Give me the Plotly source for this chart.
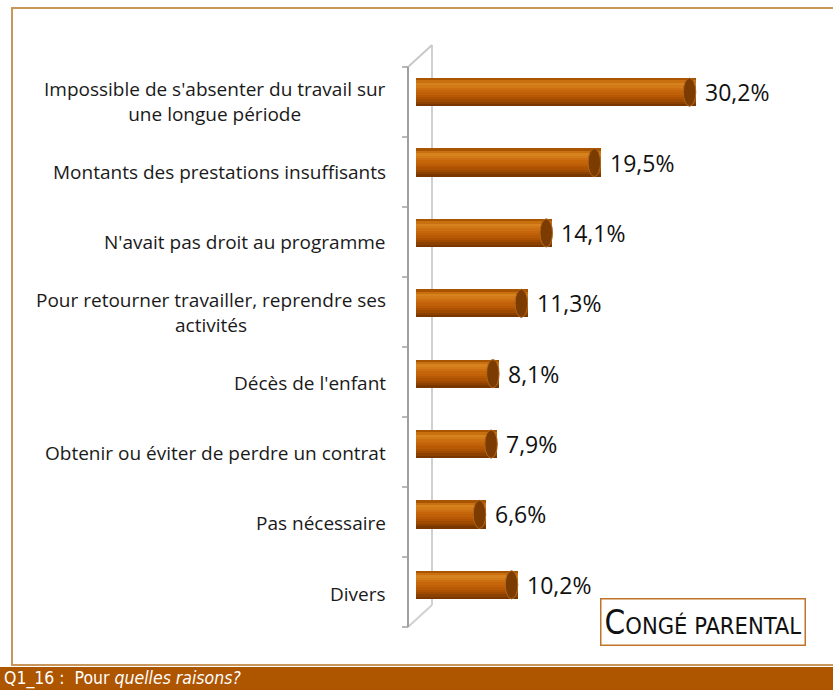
import plotly.graph_objects as go

categories = [
    "Impossible de s'absenter du travail sur<br>une longue période",
    "Montants des prestations insuffisants",
    "N'avait pas droit au programme",
    "Pour retourner travailler, reprendre ses<br>activités",
    "Décès de l'enfant",
    "Obtenir ou éviter de perdre un contrat",
    "Pas nécessaire",
    "Divers",
]
values = [30.2, 19.5, 14.1, 11.3, 8.1, 7.9, 6.6, 10.2]
value_labels = ["30,2%", "19,5%", "14,1%", "11,3%", "8,1%", "7,9%", "6,6%", "10,2%"]

W, H = 833, 690
L, R, T, B = 416, 47, 57, 70
pw, ph = W - L - R, H - T - B
PX_PER_UNIT = 8.9          # horizontal scale
X0 = -11 / PX_PER_UNIT     # 3D depth offset: bars start slightly left of zero
X1 = X0 + pw / PX_PER_UNIT

def px(x):  # pixel -> paper x
    return (x - L) / pw

def py(y):  # pixel -> paper y
    return (H - B - y) / ph

ypos = list(range(len(categories)))
bar_w = 0.40
# bands from top to bottom to simulate a cylinder
band_cols = ["#a85400", "#c8700f", "#d6821f", "#d27a18", "#cc6e12", "#c6660b",
             "#c06008", "#b85a05", "#ad5203", "#9e4a01", "#8c4100", "#783600"]
nb = len(band_cols)

fig = go.Figure()
for i, col in enumerate(band_cols):
    fig.add_trace(go.Bar(
        x=[v - X0 for v in values], base=X0, y=ypos, orientation="h",
        offset=-bar_w / 2 + i * bar_w / nb, width=bar_w / nb * 1.02,
        marker=dict(color=col, line=dict(width=0)),
        hoverinfo="skip", showlegend=False,
    ))

shapes = []
cap_w = 1.4
for v, yy in zip(values, ypos):
    shapes.append(dict(type="circle", xref="x", yref="y",
                       x0=v - cap_w, x1=v, y0=yy - bar_w / 2, y1=yy + bar_w / 2,
                       fillcolor="#7c3b00", line=dict(color="#b0681c", width=1), layer="above"))

# 3D axis walls (decoration)
gray = "#a0a0a0"
front_x, back_x = 408, 432
top_front, bot_front = 67, 627
top_back, bot_back = 45, 605
shapes += [
    dict(type="line", xref="paper", yref="paper", x0=px(front_x), x1=px(front_x),
         y0=py(top_front), y1=py(bot_front), line=dict(color=gray, width=2)),
    dict(type="line", xref="paper", yref="paper", x0=px(back_x), x1=px(back_x),
         y0=py(top_back), y1=py(bot_back), line=dict(color="#d0d0d0", width=2), layer="below"),
    dict(type="line", xref="paper", yref="paper", x0=px(front_x), x1=px(back_x),
         y0=py(top_front), y1=py(top_back), line=dict(color="#c8c8c8", width=2), layer="below"),
    dict(type="line", xref="paper", yref="paper", x0=px(front_x), x1=px(back_x),
         y0=py(bot_front), y1=py(bot_back), line=dict(color="#d0d0d0", width=2), layer="below"),
]
n = len(categories)
for k in range(n + 1):
    yk = top_front + k * (bot_front - top_front) / n
    shapes.append(dict(type="line", xref="paper", yref="paper",
                       x0=px(front_x - 6), x1=px(front_x), y0=py(yk), y1=py(yk),
                       line=dict(color=gray, width=1.5)))

# outer frame
shapes.append(dict(type="rect", xref="paper", yref="paper",
                   x0=px(12), x1=px(840), y0=py(8), y1=py(665),
                   line=dict(color="#c8955a", width=2), layer="below"))
# bottom band
shapes.append(dict(type="rect", xref="paper", yref="paper",
                   x0=px(0), x1=px(W), y0=py(667), y1=py(H + 5),
                   fillcolor="#ae5500", line=dict(width=0)))

annotations = []
for c, yy in zip(categories, ypos):
    annotations.append(dict(x=px(388), xref="paper", y=yy, yref="y", text=c,
                            xanchor="right", align="center", showarrow=False, yshift=-9,
                            font=dict(family="Open Sans", size=19, color="#1a1a1a")))
for v, lab, yy in zip(values, value_labels, ypos):
    annotations.append(dict(x=v, xref="x", y=yy, yref="y", text=lab, xanchor="left",
                            xshift=7, showarrow=False,
                            font=dict(family="Open Sans", size=23, color="#111111")))

annotations.append(dict(x=px(702.5), y=py(621.5), xref="paper", yref="paper",
                        text="<span style='font-size:33px'>C</span>ONGÉ PARENTAL",
                        showarrow=False, xanchor="center", yanchor="middle",
                        font=dict(family="DejaVu Sans Condensed, Liberation Sans", size=23.5, color="#111111"),
                        bordercolor="#c0742a", borderwidth=1.5, borderpad=3, bgcolor="#ffffff"))
annotations.append(dict(x=px(2), y=py(691), xref="paper", yref="paper",
                        text="Q1_16 :  Pour <i>quelles raisons?</i>",
                        showarrow=False, xanchor="left", yanchor="bottom",
                        font=dict(family="DejaVu Sans Condensed, Liberation Sans", size=17.5, color="#ffffff")))

fig.update_layout(
    width=W, height=H, margin=dict(l=L, r=R, t=T, b=B),
    paper_bgcolor="white", plot_bgcolor="rgba(0,0,0,0)",
    barmode="overlay", bargap=0,
    xaxis=dict(range=[X0, X1], visible=False),
    yaxis=dict(range=[n - 0.5, -0.5], visible=False),
    shapes=shapes, annotations=annotations, showlegend=False,
)

fig.write_html("out.html", config={"displayModeBar": False},
               post_script="document.body.style.margin='0px';")
